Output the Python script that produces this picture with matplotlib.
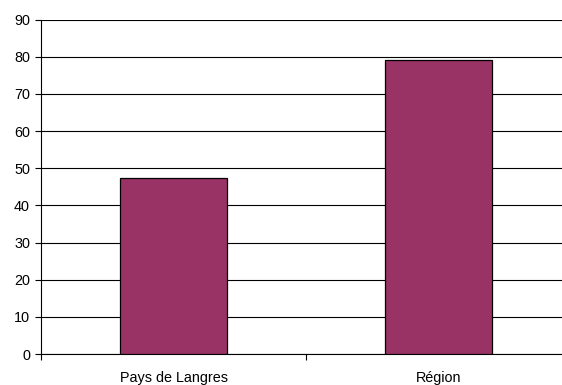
import matplotlib
matplotlib.use("Agg")
import matplotlib.pyplot as plt
import numpy as np

categories = ["Pays de Langres", "Région"]
values = [47.4, 79.2]

plt.rcParams["font.family"] = ["Liberation Sans", "DejaVu Sans"]

fig = plt.figure(figsize=(5.62, 3.85), dpi=100)
ax = fig.add_axes([41 / 562, 31 / 385, 530 / 562, 334.3 / 385])

x = np.arange(len(categories))
ax.bar(x, values, width=0.404, color="#993366", edgecolor="black", linewidth=0.9, zorder=3)

ax.set_xlim(-0.5, len(categories) - 0.5)
ax.set_ylim(0, 90)
ax.set_yticks(np.arange(0, 91, 10))
ax.yaxis.grid(True, color="black", linewidth=0.8, zorder=0)
ax.set_axisbelow(True)

ax.set_xticks(x)
ax.set_xticklabels(categories, fontsize=10.4)
ax.set_xticks(np.arange(-0.5, len(categories), 1.0), minor=True)
ax.tick_params(axis="x", which="major", length=0, pad=12)
ax.tick_params(axis="x", which="minor", length=4, width=0.8, direction="out")
ax.tick_params(axis="y", length=4, width=0.8, labelsize=10.4, pad=4)

for side in ("top", "right"):
    ax.spines[side].set_visible(False)
for side in ("left", "bottom"):
    ax.spines[side].set_linewidth(0.8)

fig.savefig("out.png", dpi=100)
